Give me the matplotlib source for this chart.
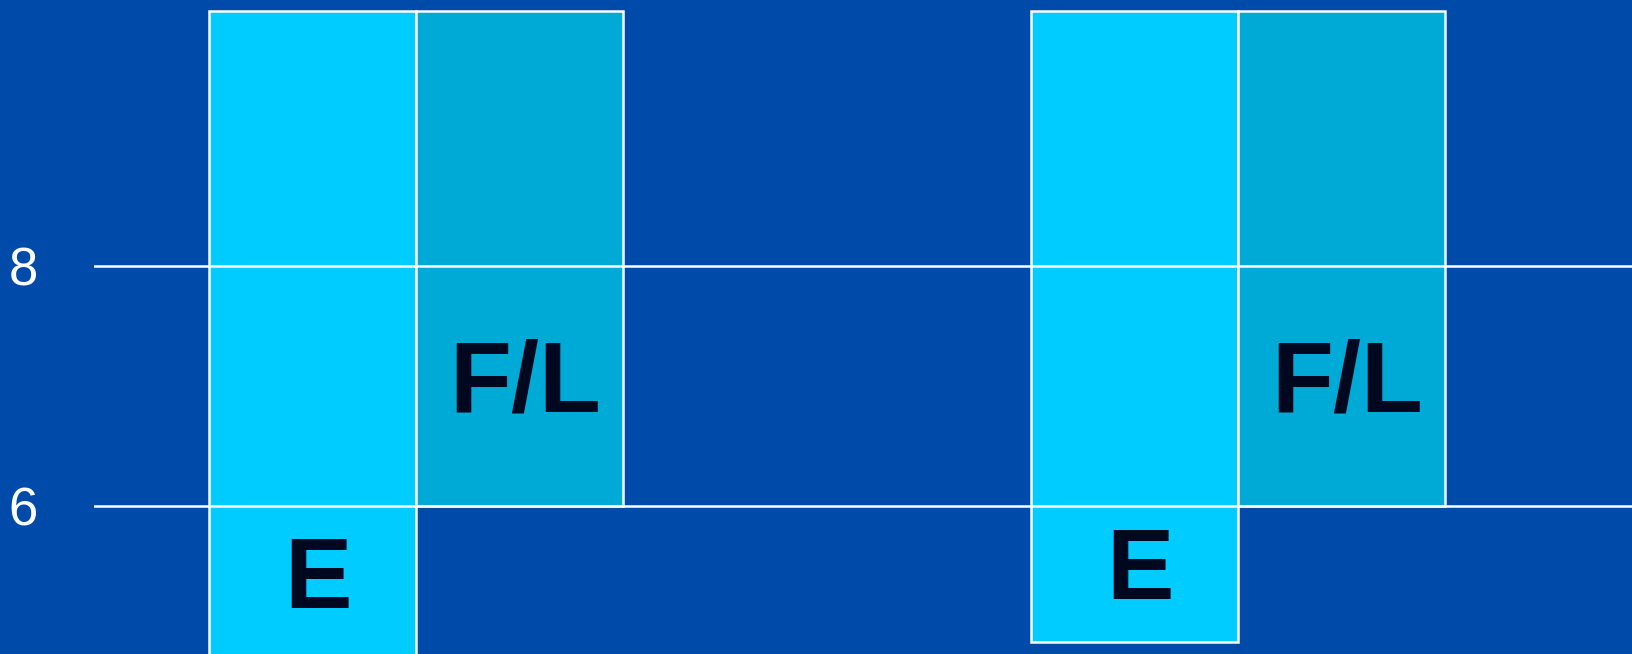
import numpy as np
import matplotlib
matplotlib.use('Agg')
import matplotlib.pyplot as plt

# data
groups = [0, 1]
e_bottom = [4.6, 4.87]
e_top = [10.12, 10.12]
fl_bottom = [6.0, 6.0]
fl_top = [10.12, 10.12]
e_label_y = [5.37, 5.44]
fl_label_y = [7.0, 7.0]
yticks = [6, 8]

bg = '#004AAA'
e_col = '#00CCFF'
fl_col = '#00AAD6'
txt_col = '#000820'

plt.rcParams['font.family'] = ['Liberation Sans', 'DejaVu Sans']

fig = plt.figure(figsize=(16.32, 6.54), dpi=100)
fig.patch.set_facecolor(bg)
ax = fig.add_axes([0.0574, 0.0, 0.9426, 1.0])
ax.set_facecolor(bg)

w = 0.252
x = np.array(groups, dtype=float)
e_h = np.array(e_top) - np.array(e_bottom)
fl_h = np.array(fl_top) - np.array(fl_bottom)
ax.bar(x - w / 2, e_h, width=w, bottom=e_bottom, color=e_col,
       edgecolor='white', linewidth=1.8, zorder=1)
ax.bar(x + w / 2, fl_h, width=w, bottom=fl_bottom, color=fl_col,
       edgecolor='white', linewidth=1.8, zorder=1)

dx = 0.0065  # labels sit a hair right of the bar centre
for i in range(len(groups)):
    ax.text(x[i] - w / 2 + dx, e_label_y[i], 'E', ha='center', va='center',
            fontsize=73, fontweight='bold', color=txt_col, zorder=3)
    ax.text(x[i] + w / 2 + dx, fl_label_y[i], 'F/L', ha='center', va='center',
            fontsize=73, fontweight='bold', color=txt_col, zorder=3)

# gridlines drawn over the bars
for y in yticks:
    ax.axhline(y, color='white', linewidth=1.8, zorder=2)

ax.set_xlim(-0.392, 1.479)
ax.set_ylim(4.77, 10.21)
ax.set_yticks(yticks)
ax.set_yticklabels([str(t) for t in yticks])
ax.set_xticks([])
ax.tick_params(axis='y', length=0, pad=40, labelsize=38, labelcolor='white')
for s in ax.spines.values():
    s.set_visible(False)

fig.savefig('out.png', facecolor=bg)
